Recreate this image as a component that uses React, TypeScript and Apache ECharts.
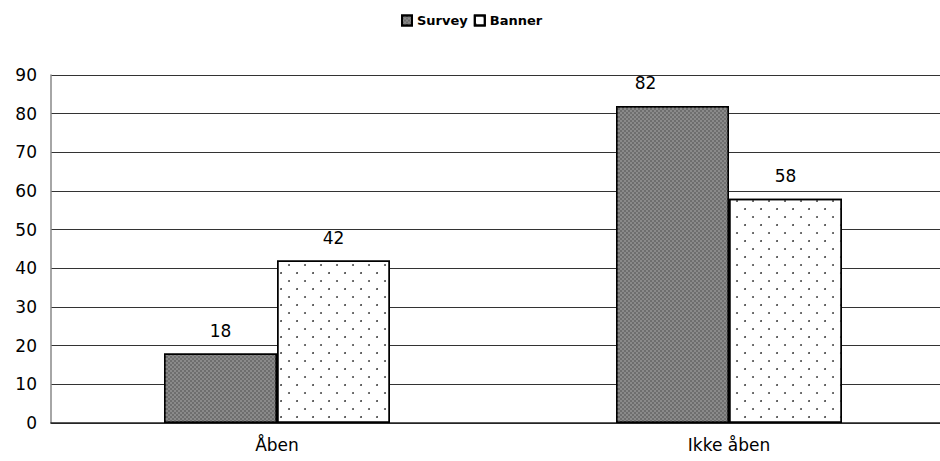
import React, { useEffect, useRef } from "react";
import * as echarts from "echarts";

const categories = ["Åben", "Ikke åben"];
const surveyValues = [18, 82];
const bannerValues = [42, 58];
const yTicks = { min: 0, max: 90, interval: 10 };

export default function App() {
  const ref = useRef<HTMLDivElement>(null);
  useEffect(() => {
    if (!ref.current) return;
    const chart = echarts.init(ref.current, undefined, { renderer: "svg" });
    const font = "'DejaVu Sans', 'Liberation Sans', Arial, sans-serif";
    const labelStyle = { show: true, position: "top", distance: 14, color: "#000", fontSize: 17, fontFamily: font };
    chart.setOption({
      animation: false,
      textStyle: { fontFamily: font },
      legend: {
        top: 9,
        left: 396,
        icon: "rect",
        itemWidth: 10,
        itemHeight: 10,
        itemGap: 6,
        textStyle: { fontWeight: "bold", fontSize: 13, color: "#000", fontFamily: font },
        data: ["Survey", "Banner"],
      },
      grid: { left: 51, right: 0, top: 75, bottom: 38, containLabel: false },
      xAxis: {
        type: "category",
        data: categories,
        axisLine: { lineStyle: { color: "#222", width: 1.5 } },
        axisTick: { show: false },
        axisLabel: { color: "#000", fontSize: 17, margin: 13, fontFamily: font },
      },
      yAxis: {
        type: "value",
        min: yTicks.min,
        max: yTicks.max,
        interval: yTicks.interval,
        axisLine: { show: true, lineStyle: { color: "#888", width: 1.5 } },
        axisTick: { show: false },
        axisLabel: { color: "#000", fontSize: 17, margin: 14, fontFamily: font },
        splitLine: { lineStyle: { color: "#333", width: 1 } },
      },
      series: [
        {
          name: "Survey",
          type: "bar",
          data: surveyValues.map((v, i) =>
            i === 1 ? { value: v, label: { offset: [-27, 0] } } : v
          ),
          barWidth: 113,
          barGap: "0%",
          itemStyle: {
            color: "#8a8a8a",
            borderColor: "#000",
            borderWidth: 1.5,
            decal: {
              symbol: "rect",
              symbolSize: 1,
              dashArrayX: [[2, 2], [0, 2, 2, 0]],
              dashArrayY: [2, 0],
              color: "#6e6e6e",
              backgroundColor: "#a0a0a0",
            },
          },
          label: labelStyle,
        },
        {
          name: "Banner",
          type: "bar",
          data: bannerValues,
          barWidth: 113,
          barGap: "0%",
          itemStyle: {
            color: "#fff",
            borderColor: "#000",
            borderWidth: 1.5,
            decal: {
              symbol: "circle",
              symbolSize: 0.9,
              dashArrayX: [[2, 14], [0, 8, 2, 6]],
              dashArrayY: [2, 6],
              color: "#333",
              backgroundColor: "#fff",
            },
          },
          label: labelStyle,
        },
      ],
    });
    return () => chart.dispose();
  }, []);
  return (
    <div style={{ width: 940, height: 461, position: "absolute", left: 0, top: 0, overflow: "hidden" }}>
      <div ref={ref} style={{ width: 955, height: 461 }} />
    </div>
  );
}
